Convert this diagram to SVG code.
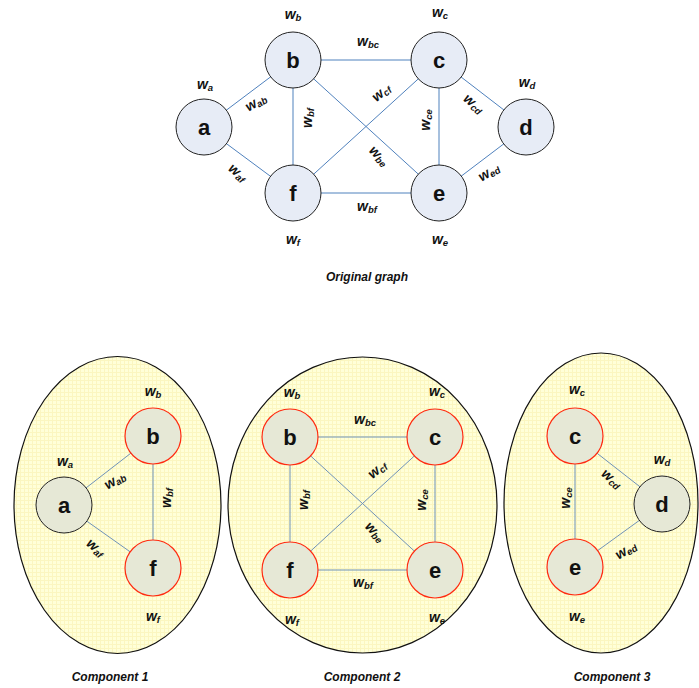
<svg xmlns="http://www.w3.org/2000/svg" width="699" height="688" viewBox="0 0 699 688">
  <defs>
    <pattern id="grid" width="4" height="4" patternUnits="userSpaceOnUse">
      <rect width="4" height="4" fill="#ffffd8"/>
      <path d="M0 0.5H4M0.5 0V4" stroke="#fbf6c0" stroke-width="1"/>
    </pattern>
  </defs>
  <style>
    text { font-family: "Liberation Sans", Arial, sans-serif; fill: #111; }
    .w { font-size: 14px; font-weight: bold; font-style: italic; text-anchor: middle; }
    .s { font-size: 9.5px; }
    .lbl { font-size: 22px; font-weight: bold; text-anchor: middle; }
    .cap { font-size: 12px; font-weight: bold; font-style: italic; text-anchor: middle; }
    .edge { stroke: #4f81bd; stroke-width: 1; fill: none; }
    .edge2 { stroke: #6f92b8; stroke-width: 1; fill: none; }
    .n0 { fill: #e7ecf6; stroke: #222; stroke-width: 1; }
    .nr { fill: #e6e8d6; stroke: #ff2a10; stroke-width: 1.2; }
    .nk { fill: #e6e8d6; stroke: #222; stroke-width: 1; }
    .comp { fill: url(#grid); stroke: #111; stroke-width: 1.2; }
  </style>

  <!-- Original graph -->
  <g id="original">
    <g id="orig-edges">
      <line class="edge" x1="204" y1="127" x2="293" y2="60"/>
      <line class="edge" x1="204" y1="127" x2="293" y2="193"/>
      <line class="edge" x1="293" y1="60" x2="439" y2="60"/>
      <line class="edge" x1="293" y1="60" x2="293" y2="193"/>
      <line class="edge" x1="293" y1="60" x2="439" y2="193"/>
      <line class="edge" x1="439" y1="60" x2="293" y2="193"/>
      <line class="edge" x1="439" y1="60" x2="439" y2="193"/>
      <line class="edge" x1="439" y1="60" x2="526" y2="127"/>
      <line class="edge" x1="526" y1="127" x2="439" y2="193"/>
      <line class="edge" x1="293" y1="193" x2="439" y2="193"/>
    </g>
    <g id="orig-a"><circle class="n0" cx="204" cy="127" r="28"/><text class="lbl" x="204" y="135">a</text></g>
    <g id="orig-b"><circle class="n0" cx="293" cy="60" r="28"/><text class="lbl" x="293" y="68">b</text></g>
    <g id="orig-c"><circle class="n0" cx="439" cy="60" r="28"/><text class="lbl" x="439" y="68">c</text></g>
    <g id="orig-d"><circle class="n0" cx="526" cy="127" r="28"/><text class="lbl" x="526" y="135">d</text></g>
    <g id="orig-e"><circle class="n0" cx="439" cy="193" r="28"/><text class="lbl" x="439" y="201">e</text></g>
    <g id="orig-f"><circle class="n0" cx="293" cy="193" r="28"/><text class="lbl" x="293" y="201">f</text></g>
    <g id="orig-labels">
      <text class="w" x="293" y="19">w<tspan class="s" dy="2">b</tspan></text>
      <text class="w" x="440" y="17">w<tspan class="s" dy="2">c</tspan></text>
      <text class="w" x="205" y="89">w<tspan class="s" dy="2">a</tspan></text>
      <text class="w" x="527" y="87">w<tspan class="s" dy="2">d</tspan></text>
      <text class="w" x="293" y="244">w<tspan class="s" dy="2">f</tspan></text>
      <text class="w" x="440" y="244">w<tspan class="s" dy="2">e</tspan></text>
      <text class="w" x="368" y="46">w<tspan class="s" dy="2">bc</tspan></text>
      <text class="w" x="367" y="211">w<tspan class="s" dy="2">bf</tspan></text>
      <text class="w" transform="translate(258,106) rotate(-32)">w<tspan class="s" dy="2">ab</tspan></text>
      <text class="w" transform="translate(235,176) rotate(40)">w<tspan class="s" dy="2">af</tspan></text>
      <text class="w" transform="translate(312,118) rotate(-90)">w<tspan class="s" dy="2">bf</tspan></text>
      <text class="w" transform="translate(384,96) rotate(-40)">w<tspan class="s" dy="2">cf</tspan></text>
      <text class="w" transform="translate(376,159) rotate(45)">w<tspan class="s" dy="2">be</tspan></text>
      <text class="w" transform="translate(430,120) rotate(-90)">w<tspan class="s" dy="2">ce</tspan></text>
      <text class="w" transform="translate(471,107) rotate(40)">w<tspan class="s" dy="2">cd</tspan></text>
      <text class="w" transform="translate(491,176) rotate(-32)">w<tspan class="s" dy="2">ed</tspan></text>
    </g>
    <text class="cap" x="367" y="281">Original graph</text>
  </g>

  <!-- Component 1 -->
  <g id="component1">
    <ellipse class="comp" cx="117.5" cy="505" rx="103.5" ry="148.5"/>
    <g id="c1-edges">
      <line class="edge2" x1="64" y1="505" x2="153" y2="436"/>
      <line class="edge2" x1="64" y1="505" x2="153" y2="568"/>
      <line class="edge2" x1="153" y1="436" x2="153" y2="568"/>
    </g>
    <g id="c1-a"><circle class="nk" cx="64" cy="505" r="28"/><text class="lbl" x="64" y="513">a</text></g>
    <g id="c1-b"><circle class="nr" cx="153" cy="436" r="28"/><text class="lbl" x="153" y="444">b</text></g>
    <g id="c1-f"><circle class="nr" cx="153" cy="568" r="28"/><text class="lbl" x="153" y="576">f</text></g>
    <g id="c1-labels">
      <text class="w" x="153" y="396">w<tspan class="s" dy="2">b</tspan></text>
      <text class="w" x="65" y="466">w<tspan class="s" dy="2">a</tspan></text>
      <text class="w" x="153" y="621">w<tspan class="s" dy="2">f</tspan></text>
      <text class="w" transform="translate(117,484) rotate(-32)">w<tspan class="s" dy="2">ab</tspan></text>
      <text class="w" transform="translate(93,551) rotate(40)">w<tspan class="s" dy="2">af</tspan></text>
      <text class="w" transform="translate(171,498) rotate(-90)">w<tspan class="s" dy="2">bf</tspan></text>
    </g>
    <text class="cap" x="110" y="681">Component 1</text>
  </g>

  <!-- Component 2 -->
  <g id="component2">
    <ellipse class="comp" cx="362.5" cy="505" rx="134.5" ry="148"/>
    <g id="c2-edges">
      <line class="edge2" x1="290" y1="437" x2="435" y2="437"/>
      <line class="edge2" x1="290" y1="437" x2="290" y2="570"/>
      <line class="edge2" x1="290" y1="437" x2="435" y2="570"/>
      <line class="edge2" x1="435" y1="437" x2="290" y2="570"/>
      <line class="edge2" x1="435" y1="437" x2="435" y2="570"/>
      <line class="edge2" x1="290" y1="570" x2="435" y2="570"/>
    </g>
    <g id="c2-b"><circle class="nr" cx="290" cy="437" r="28"/><text class="lbl" x="290" y="445">b</text></g>
    <g id="c2-c"><circle class="nr" cx="435" cy="437" r="28"/><text class="lbl" x="435" y="445">c</text></g>
    <g id="c2-f"><circle class="nr" cx="290" cy="570" r="28"/><text class="lbl" x="290" y="578">f</text></g>
    <g id="c2-e"><circle class="nr" cx="435" cy="570" r="28"/><text class="lbl" x="435" y="578">e</text></g>
    <g id="c2-labels">
      <text class="w" x="292" y="397">w<tspan class="s" dy="2">b</tspan></text>
      <text class="w" x="437" y="396">w<tspan class="s" dy="2">c</tspan></text>
      <text class="w" x="365" y="424">w<tspan class="s" dy="2">bc</tspan></text>
      <text class="w" x="363" y="587">w<tspan class="s" dy="2">bf</tspan></text>
      <text class="w" x="292" y="624">w<tspan class="s" dy="2">f</tspan></text>
      <text class="w" x="437" y="622">w<tspan class="s" dy="2">e</tspan></text>
      <text class="w" transform="translate(380,473) rotate(-40)">w<tspan class="s" dy="2">cf</tspan></text>
      <text class="w" transform="translate(308,500) rotate(-90)">w<tspan class="s" dy="2">bf</tspan></text>
      <text class="w" transform="translate(426,500) rotate(-90)">w<tspan class="s" dy="2">ce</tspan></text>
      <text class="w" transform="translate(372,535) rotate(45)">w<tspan class="s" dy="2">be</tspan></text>
    </g>
    <text class="cap" x="362" y="681">Component 2</text>
  </g>

  <!-- Component 3 -->
  <g id="component3">
    <ellipse class="comp" cx="601" cy="503" rx="97" ry="150"/>
    <g id="c3-edges">
      <line class="edge2" x1="575" y1="436" x2="575" y2="567"/>
      <line class="edge2" x1="575" y1="436" x2="662" y2="504"/>
      <line class="edge2" x1="662" y1="504" x2="575" y2="567"/>
    </g>
    <g id="c3-c"><circle class="nr" cx="575" cy="436" r="28"/><text class="lbl" x="575" y="444">c</text></g>
    <g id="c3-d"><circle class="nk" cx="662" cy="504" r="28"/><text class="lbl" x="662" y="512">d</text></g>
    <g id="c3-e"><circle class="nr" cx="575" cy="567" r="28"/><text class="lbl" x="575" y="575">e</text></g>
    <g id="c3-labels">
      <text class="w" x="577" y="394">w<tspan class="s" dy="2">c</tspan></text>
      <text class="w" x="662" y="464">w<tspan class="s" dy="2">d</tspan></text>
      <text class="w" x="577" y="621">w<tspan class="s" dy="2">e</tspan></text>
      <text class="w" transform="translate(609,482) rotate(40)">w<tspan class="s" dy="2">cd</tspan></text>
      <text class="w" transform="translate(570,498) rotate(-90)">w<tspan class="s" dy="2">ce</tspan></text>
      <text class="w" transform="translate(628,554) rotate(-32)">w<tspan class="s" dy="2">ed</tspan></text>
    </g>
    <text class="cap" x="612" y="681">Component 3</text>
  </g>
</svg>
